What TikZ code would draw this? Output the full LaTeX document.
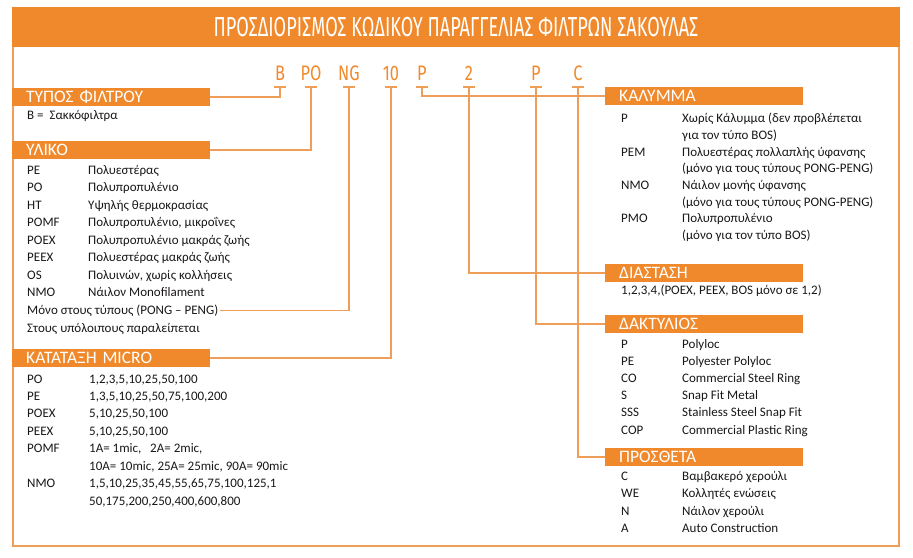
\documentclass[tikz,border=0pt]{standalone}
\usepackage{fontspec}
\setmainfont{Carlito}
\newfontfamily\titlefont[FakeStretch=0.66]{Fira Sans}
\newfontfamily\headfont{Carlito}
\newfontfamily\codefont[FakeStretch=0.78]{Fira Sans}
\usetikzlibrary{positioning}
\definecolor{bandorange}{RGB}{240,137,43}
\definecolor{lineorange}{RGB}{238,158,88}
\definecolor{bodytext}{RGB}{25,22,22}
\tikzset{
  headbox/.style={fill=bandorange, text=white, font=\headfont\fontsize{17.5}{17.5}\selectfont,
    minimum height=18pt, text width=170pt, inner xsep=14pt, inner ysep=0pt, align=left, anchor=west},
  codeletter/.style={text=bandorange, font=\codefont\fontsize{21}{21}\selectfont, inner sep=0pt},
  entry/.style={anchor=base west, inner sep=0pt, text=bodytext, font=\fontsize{13}{13}\selectfont},
  connector/.style={draw=lineorange, line width=1.3pt}
}

\begin{document}
\begin{tikzpicture}[x=1pt,y=-1pt]
\useasboundingbox (0,0) rectangle (913,557);
	% frame and title
\draw [lineorange, line width=1.5pt] (13,20) rectangle (899,546);
\fill [bandorange] (12,7) rectangle (900,47);
\node (title) [text=white, font=\titlefont\fontsize{27.5}{27.5}\selectfont, inner sep=0pt] at (456,27) {ΠΡΟΣΔΙΟΡΙΣΜΟΣ ΚΩΔΙΚΟΥ ΠΑΡΑΓΓΕΛΙΑΣ ΦΙΛΤΡΩΝ ΣΑΚΟΥΛΑΣ};

	% code letters
\node (cB) [codeletter] at (280,73) {B};
\node (cPO) [codeletter] at (311,73) {PO};
\node (cNG) [codeletter] at (349,73) {NG};
\node (c10) [codeletter] at (391,73) {10};
\node (cP) [codeletter] at (422,73) {P};
\node (c2) [codeletter] at (469,73) {2};
\node (cPr) [codeletter] at (536,73) {P};
\node (cC) [codeletter] at (578,73) {C};
\coordinate (tB) at (cB |- 0,87);
\coordinate (tPO) at (cPO |- 0,87);
\coordinate (tNG) at (cNG |- 0,87);
\coordinate (t10) at (c10 |- 0,87);
\coordinate (tP) at (cP |- 0,87);
\coordinate (t2) at (c2 |- 0,87);
\coordinate (tPr) at (cPr |- 0,87);
\coordinate (tC) at (cC |- 0,87);

	% left column
\node (typos) [headbox] at (12,97) {ΤΥΠΟΣ ΦΙΛΤΡΟΥ};
\node (b) [entry] at (27,119) {B = \ Σακκόφιλτρα};

\node (yliko) [headbox] at (12,150) {ΥΛΙΚΟ};
\node (y1) [entry] at (27,174) {PE};
\node (y1d) [entry] at (88,174) {Πολυεστέρας};
\node (y2) [entry] at (27,191.5) {PO};
\node (y2d) [entry] at (88,191.5) {Πολυπροπυλένιο};
\node (y3) [entry] at (27,209) {HT};
\node (y3d) [entry] at (88,209) {Υψηλής θερμοκρασίας};
\node (y4) [entry] at (27,226.5) {POMF};
\node (y4d) [entry] at (88,226.5) {Πολυπροπυλένιο, μικροΐνες};
\node (y5) [entry] at (27,244) {POEX};
\node (y5d) [entry] at (88,244) {Πολυπροπυλένιο μακράς ζωής};
\node (y6) [entry] at (27,261.5) {PEEX};
\node (y6d) [entry] at (88,261.5) {Πολυεστέρας μακράς ζωής};
\node (y7) [entry] at (27,279) {OS};
\node (y7d) [entry] at (88,279) {Πολυινών, χωρίς κολλήσεις};
\node (y8) [entry] at (27,296.5) {NMO};
\node (y8d) [entry] at (88,296.5) {Νάιλον Monofilament};
\node (pong) [entry] at (27,314) {Μόνο στους τύπους (PONG – PENG)};
\node (rest) [entry] at (27,332) {Στους υπόλοιπους παραλείπεται};

\node (katataxi) [headbox] at (12,358) {ΚΑΤΑΤΑΞΗ MICRO};
\node (k1) [entry] at (27,383) {PO};
\node (k1d) [entry] at (89,383) {1,2,3,5,10,25,50,100};
\node (k2) [entry] at (27,400) {PE};
\node (k2d) [entry] at (89,400) {1,3,5,10,25,50,75,100,200};
\node (k3) [entry] at (27,417.5) {POEX};
\node (k3d) [entry] at (89,417.5) {5,10,25,50,100};
\node (k4) [entry] at (27,435) {PEEX};
\node (k4d) [entry] at (89,435) {5,10,25,50,100};
\node (k5) [entry] at (27,452.5) {POMF};
\node (k5d) [entry] at (89,452.5) {1A= 1mic, \ \ 2A= 2mic,};
\node (k5e) [entry] at (89,470) {10A= 10mic, 25A= 25mic, 90A= 90mic};
\node (k6) [entry] at (27,487.5) {NMO};
\node (k6d) [entry] at (89,487.5) {1,5,10,25,35,45,55,65,75,100,125,1};
\node (k6e) [entry] at (89,505) {50,175,200,250,400,600,800};

	% right column
\node (kalymma) [headbox] at (605,96) {ΚΑΛΥΜΜΑ};
\node (m1) [entry] at (621,122) {P};
\node (m1d) [entry] at (682,122) {Χωρίς Κάλυμμα (δεν προβλέπεται};
\node (m1e) [entry] at (682,139) {για τον τύπο BOS)};
\node (m2) [entry] at (621,156) {PEM};
\node (m2d) [entry] at (682,156) {Πολυεστέρας πολλαπλής ύφανσης};
\node (m2e) [entry] at (682,172.5) {(μόνο για τους τύπους PONG-PENG)};
\node (m3) [entry] at (621,189) {NMO};
\node (m3d) [entry] at (682,189) {Νάιλον μονής ύφανσης};
\node (m3e) [entry] at (682,206) {(μόνο για τους τύπους PONG-PENG)};
\node (m4) [entry] at (621,222.5) {PMO};
\node (m4d) [entry] at (682,222.5) {Πολυπροπυλένιο};
\node (m4e) [entry] at (682,239) {(μόνο για τον τύπο BOS)};

\node (diastasi) [headbox] at (605,273) {ΔΙΑΣΤΑΣΗ};
\node (d1) [entry] at (621,294) {1,2,3,4,(POEX, PEEX, BOS μόνο σε 1,2)};

\node (daktylios) [headbox] at (605,324) {ΔΑΚΤΥΛΙΟΣ};
\node (r1) [entry] at (621,348) {P};
\node (r1d) [entry] at (682,348) {Polyloc};
\node (r2) [entry] at (621,365) {PE};
\node (r2d) [entry] at (682,365) {Polyester Polyloc};
\node (r3) [entry] at (621,382.5) {CO};
\node (r3d) [entry] at (682,382.5) {Commercial Steel Ring};
\node (r4) [entry] at (621,399.5) {S};
\node (r4d) [entry] at (682,399.5) {Snap Fit Metal};
\node (r5) [entry] at (621,416.5) {SSS};
\node (r5d) [entry] at (682,416.5) {Stainless Steel Snap Fit};
\node (r6) [entry] at (621,434) {COP};
\node (r6d) [entry] at (682,434) {Commercial Plastic Ring};

\node (prostheta) [headbox] at (605,457) {ΠΡΟΣΘΕΤΑ};
\node (p1) [entry] at (621,480) {C};
\node (p1d) [entry] at (682,480) {Βαμβακερό χερούλι};
\node (p2) [entry] at (621,497.5) {WE};
\node (p2d) [entry] at (682,497.5) {Κολλητές ενώσεις};
\node (p3) [entry] at (621,515) {N};
\node (p3d) [entry] at (682,515) {Νάιλον χερούλι};
\node (p4) [entry] at (621,532) {A};
\node (p4d) [entry] at (682,532) {Auto Construction};

	% ticks and connectors
\draw [connector] ([xshift=-6pt]tB) -- ([xshift=6pt]tB);
\draw [connector] ([xshift=-6pt]tPO) -- ([xshift=6pt]tPO);
\draw [connector] ([xshift=-6pt]tNG) -- ([xshift=6pt]tNG);
\draw [connector] ([xshift=-6pt]t10) -- ([xshift=6pt]t10);
\draw [connector] ([xshift=-6pt]tP) -- ([xshift=6pt]tP);
\draw [connector] ([xshift=-6pt]t2) -- ([xshift=6pt]t2);
\draw [connector] ([xshift=-6pt]tPr) -- ([xshift=6pt]tPr);
\draw [connector] ([xshift=-6pt]tC) -- ([xshift=6pt]tC);
\draw [connector] (tB) |- (typos.east);
\draw [connector] (tPO) |- (yliko.east);
\draw [connector, shorten >=2pt] (tNG) |- (pong.east);
\draw [connector] (t10) |- (katataxi.east);
\draw [connector] (tP) |- (kalymma.west);
\draw [connector] (t2) |- (diastasi.west);
\draw [connector] (tPr) |- (daktylios.west);
\draw [connector] (tC) |- (prostheta.west);
\end{tikzpicture}
\end{document}
